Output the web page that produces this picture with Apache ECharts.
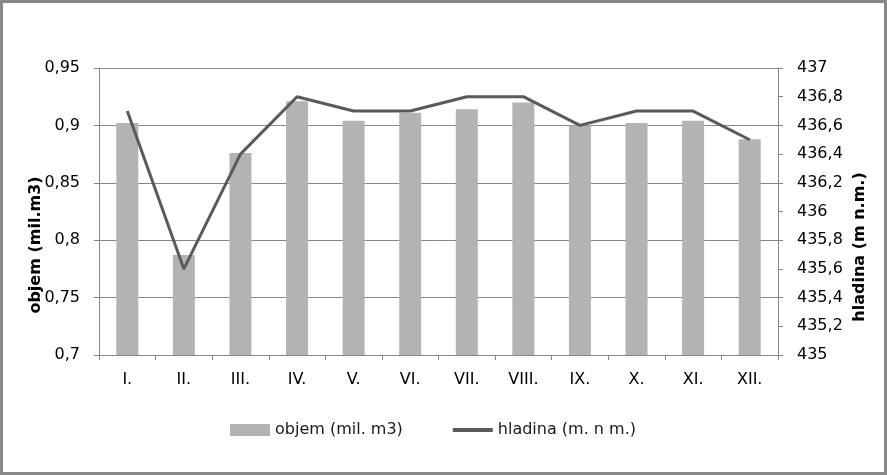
<!DOCTYPE html>
<html>
<head>
<meta charset="utf-8">
<style>
html, body { margin: 0; padding: 0; background: #fff; }
#chart { width: 887px; height: 475px; }
</style>
<script src="https://cdn.jsdelivr.net/npm/echarts@6/dist/echarts.min.js"></script>
</head>
<body>
<div id="chart"></div>
<script>
var months = ['I.', 'II.', 'III.', 'IV.', 'V.', 'VI.', 'VII.', 'VIII.', 'IX.', 'X.', 'XI.', 'XII.'];
var objem = [0.902, 0.787, 0.876, 0.921, 0.904, 0.911, 0.914, 0.920, 0.900, 0.902, 0.904, 0.888];
var hladina = [436.7, 435.6, 436.4, 436.8, 436.7, 436.7, 436.8, 436.8, 436.6, 436.7, 436.7, 436.5];

var font = 'DejaVu Sans';
var gridColor = '#878787';

function comma(v, d) {
	return String(+v.toFixed(d)).replace('.', ',');
}

var myChart = echarts.init(document.getElementById('chart'));

var option = {
	backgroundColor: '#fff',
	animation: false,
	textStyle: { fontFamily: font },
	grid: {
		left: 99,
		right: 109,
		top: 68,
		bottom: 120
	},
	legend: {
		left: 225,
		top: 417,
		itemWidth: 40,
		itemHeight: 12,
		itemGap: 50,
		textStyle: { fontFamily: font, fontSize: 16, color: '#1a1a1a' },
		data: [
			{ name: 'objem (mil. m3)', icon: 'rect' },
			// plain thick line, no marker
			{ name: 'hladina (m. n m.)', icon: 'path://M0,0 L42,0 L42,4 L0,4 Z' }
		]
	},
	xAxis: {
		type: 'category',
		data: months,
		axisLine: { lineStyle: { color: gridColor, width: 1 } },
		axisTick: { show: true, length: 5, lineStyle: { color: gridColor } },
		axisLabel: { color: '#000', fontSize: 16, fontFamily: font, margin: 17 }
	},
	yAxis: [
		{
			type: 'value',
			min: 0.7,
			max: 0.95,
			interval: 0.05,
			axisLine: { show: true, lineStyle: { color: gridColor } },
			axisTick: { show: true, length: 5, lineStyle: { color: gridColor } },
			splitLine: { show: true, lineStyle: { color: gridColor, width: 1 } },
			axisLabel: {
				color: '#000', fontSize: 16, fontFamily: font, margin: 19,
				formatter: function (v) { return comma(v, 2); }
			}
		},
		{
			type: 'value',
			min: 435,
			max: 437,
			interval: 0.2,
			axisLine: { show: true, lineStyle: { color: gridColor } },
			axisTick: { show: true, length: 5, lineStyle: { color: gridColor } },
			splitLine: { show: false },
			axisLabel: {
				color: '#000', fontSize: 16, fontFamily: font, margin: 19,
				formatter: function (v) { return comma(v, 1); }
			}
		}
	],
	series: [
		{
			name: 'objem (mil. m3)',
			type: 'bar',
			yAxisIndex: 0,
			data: objem,
			barWidth: 22,
			itemStyle: { color: '#b3b3b3' }
		},
		{
			name: 'hladina (m. n m.)',
			type: 'line',
			yAxisIndex: 1,
			data: hladina,
			symbol: 'none',
			lineStyle: { color: '#5a5a5a', width: 3 },
			itemStyle: { color: '#5a5a5a' }
		}
	],
	graphic: [
		{
			type: 'text',
			x: 36, y: 245,
			rotation: Math.PI / 2,
			style: {
				text: 'objem (mil.m3)',
				font: 'bold 16px "DejaVu Sans"',
				fill: '#000',
				align: 'center',
				verticalAlign: 'middle'
			}
		},
		{
			type: 'text',
			x: 860, y: 247,
			rotation: Math.PI / 2,
			style: {
				text: 'hladina (m n.m.)',
				font: 'bold 16px "DejaVu Sans"',
				fill: '#000',
				align: 'center',
				verticalAlign: 'middle'
			}
		},
		{
			type: 'rect',
			shape: { x: 1.5, y: 1.5, width: 884, height: 472 },
			style: { fill: null, stroke: '#878787', lineWidth: 3 },
			silent: true
		}
	]
};
myChart.setOption(option);
</script>
</body>
</html>
